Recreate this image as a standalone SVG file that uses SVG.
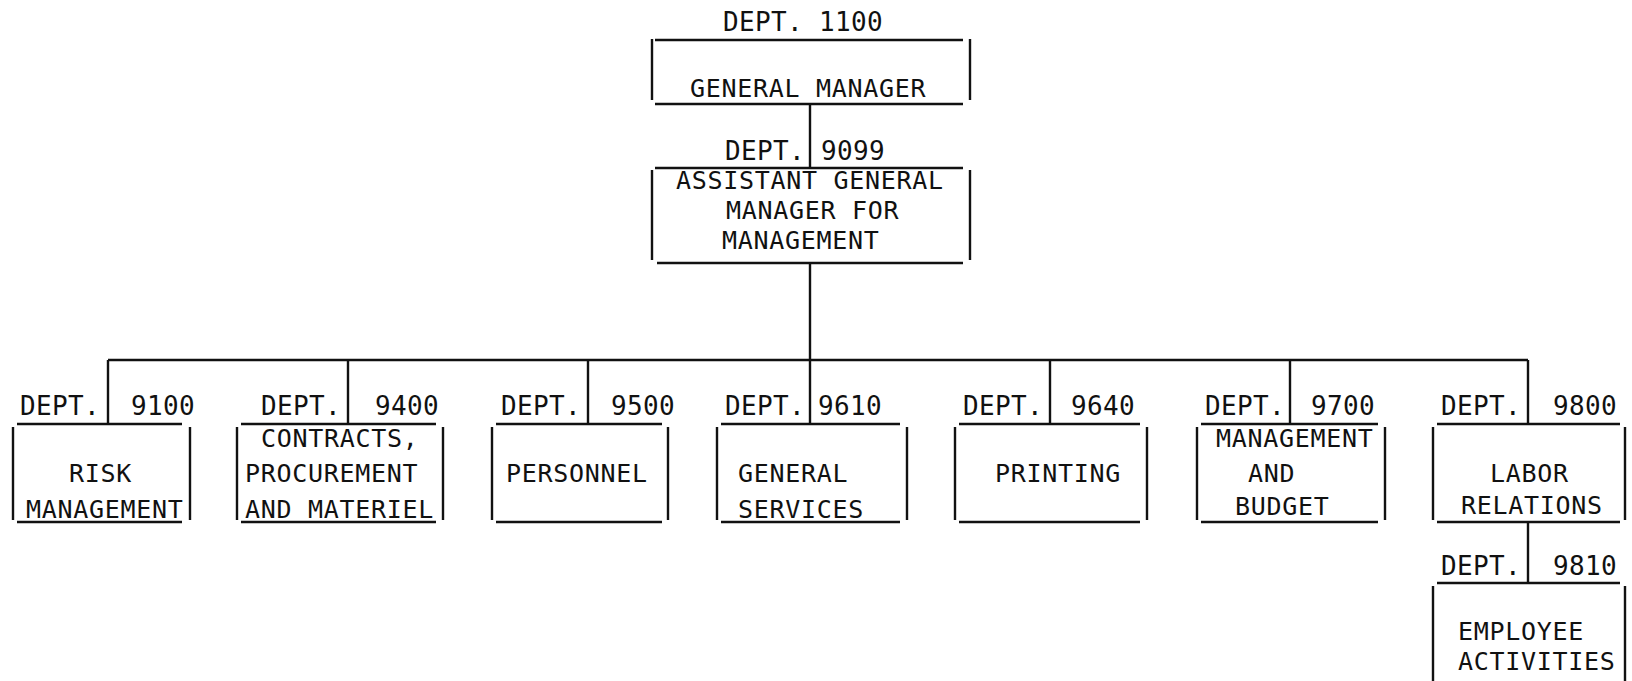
<svg xmlns="http://www.w3.org/2000/svg" width="1632" height="681" viewBox="0 0 1632 681">
<style>
.ln{stroke:#111;stroke-width:2.4;fill:none;stroke-linecap:butt}
.t{font-family:"DejaVu Sans Mono","Liberation Mono",monospace;font-size:25px;letter-spacing:0.7px;fill:#111}
.d{font-family:"DejaVu Sans Mono","Liberation Mono",monospace;font-size:26px;letter-spacing:0.35px;fill:#111}
</style>
<rect width="1632" height="681" fill="#fff"/>
<g id="connectors" class="ln">
<path d="M810 104V168M810 263V360M108 360H1528M108 360V424M348 360V424M588 360V424M810 360V424M1050 360V424M1290 360V424M1528 360V424M1528 522V583"/>
</g>
<g id="n1100">
<path class="ln" d="M655 40H963M655 104H963M652 39V100M970 39V100"/>
<text class="d" x="723" y="31">DEPT. 1100</text>
<text class="t" x="690" y="97">GENERAL MANAGER</text>
</g>
<g id="n9099">
<path class="ln" d="M655 168H963M657 263H963M652 170V260M970 170V260"/>
<text class="d" x="725" y="160">DEPT.</text>
<text class="d" x="821" y="160">9099</text>
<text class="t" x="676" y="189">ASSISTANT GENERAL</text>
<text class="t" x="726" y="219">MANAGER FOR</text>
<text class="t" x="722" y="249">MANAGEMENT</text>
</g>
<g id="n9100">
<path class="ln" d="M17 424H182M17 522H182M13 427V520M190 427V520"/>
<text class="d" x="20" y="415">DEPT.</text>
<text class="d" x="131" y="415">9100</text>
<text class="t" x="69" y="482">RISK</text>
<text class="t" x="26" y="518">MANAGEMENT</text>
</g>
<g id="n9400">
<path class="ln" d="M241 424H436M241 522H436M237 427V520M443 427V520"/>
<text class="d" x="261" y="415">DEPT.</text>
<text class="d" x="375" y="415">9400</text>
<text class="t" x="261" y="447">CONTRACTS,</text>
<text class="t" x="245" y="482">PROCUREMENT</text>
<text class="t" x="245" y="518">AND MATERIEL</text>
</g>
<g id="n9500">
<path class="ln" d="M496 424H662M496 522H662M492 427V520M668 427V520"/>
<text class="d" x="501" y="415">DEPT.</text>
<text class="d" x="611" y="415">9500</text>
<text class="t" x="506" y="482">PERSONNEL</text>
</g>
<g id="n9610">
<path class="ln" d="M721 424H900M721 522H900M717 427V520M907 427V520"/>
<text class="d" x="725" y="415">DEPT.</text>
<text class="d" x="818" y="415">9610</text>
<text class="t" x="738" y="482">GENERAL</text>
<text class="t" x="738" y="518">SERVICES</text>
</g>
<g id="n9640">
<path class="ln" d="M959 424H1140M959 522H1140M955 427V520M1147 427V520"/>
<text class="d" x="963" y="415">DEPT.</text>
<text class="d" x="1071" y="415">9640</text>
<text class="t" x="995" y="482">PRINTING</text>
</g>
<g id="n9700">
<path class="ln" d="M1201 424H1378M1201 522H1378M1197 427V520M1385 427V520"/>
<text class="d" x="1205" y="415">DEPT.</text>
<text class="d" x="1311" y="415">9700</text>
<text class="t" x="1216" y="447">MANAGEMENT</text>
<text class="t" x="1248" y="482">AND</text>
<text class="t" x="1235" y="515">BUDGET</text>
</g>
<g id="n9800">
<path class="ln" d="M1437 424H1620M1437 522H1620M1433 427V520M1625 427V520"/>
<text class="d" x="1441" y="415">DEPT.</text>
<text class="d" x="1553" y="415">9800</text>
<text class="t" x="1490" y="482">LABOR</text>
<text class="t" x="1461" y="514">RELATIONS</text>
</g>
<g id="n9810">
<path class="ln" d="M1437 583H1620M1433 586V681M1625 586V681"/>
<text class="d" x="1441" y="575">DEPT.</text>
<text class="d" x="1553" y="575">9810</text>
<text class="t" x="1458" y="640">EMPLOYEE</text>
<text class="t" x="1458" y="670">ACTIVITIES</text>
</g>
</svg>
